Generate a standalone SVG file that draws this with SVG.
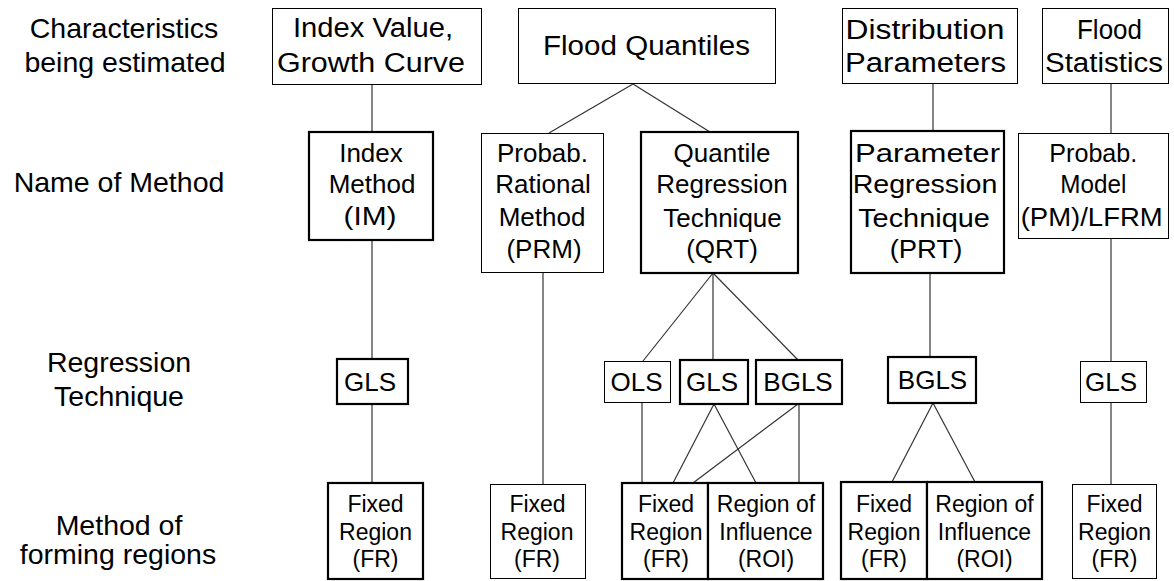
<svg xmlns="http://www.w3.org/2000/svg" width="1174" height="581" viewBox="0 0 1174 581">
<style>
text{font-family:"Liberation Sans",Arial,sans-serif;fill:#000;text-anchor:middle}
.lab{font-size:28.5px}
.top{font-size:27px}
.m{font-size:26px}
.r{font-size:26px}
.b{font-size:23px}
.thin{fill:#fff;stroke:#000;stroke-width:1}
.thick{fill:#fff;stroke:#000;stroke-width:2.2}
#connectors line{stroke:#333;stroke-width:1.2}
</style>
<rect width="1174" height="581" fill="#fff"/>
<g id="row-labels">
<text class="lab" x="124" y="38">Characteristics</text>
<text class="lab" x="125" y="72">being estimated</text>
<text class="lab" x="119" y="192">Name of Method</text>
<text class="lab" x="119" y="372">Regression</text>
<text class="lab" x="119" y="406">Technique</text>
<text class="lab" x="119" y="535">Method of</text>
<text class="lab" x="118" y="564">forming regions</text>
</g>
<g id="connectors">
<line x1="372" y1="85" x2="372" y2="132"/>
<line x1="372" y1="240" x2="372" y2="359"/>
<line x1="372" y1="404" x2="372" y2="483"/>
<line x1="633" y1="84" x2="549" y2="133"/>
<line x1="633" y1="84" x2="710" y2="132"/>
<line x1="543" y1="273" x2="543" y2="484"/>
<line x1="713" y1="273" x2="643" y2="361"/>
<line x1="713" y1="273" x2="713" y2="360"/>
<line x1="713" y1="273" x2="798" y2="360"/>
<line x1="642" y1="403" x2="642" y2="483"/>
<line x1="714" y1="404" x2="673" y2="483"/>
<line x1="714" y1="404" x2="756" y2="483"/>
<line x1="798" y1="404" x2="693" y2="483"/>
<line x1="799" y1="404" x2="799" y2="483"/>
<line x1="933" y1="84" x2="933" y2="131"/>
<line x1="930" y1="273" x2="930" y2="357"/>
<line x1="933" y1="403" x2="892" y2="482"/>
<line x1="933" y1="403" x2="975" y2="482"/>
<line x1="1111" y1="84" x2="1111" y2="133"/>
<line x1="1111" y1="239" x2="1111" y2="361"/>
<line x1="1111" y1="403" x2="1111" y2="484"/>
</g>
<g id="index-value">
<rect class="thin" x="272.5" y="8.5" width="209" height="76"/>
<text class="top" x="373" y="37" textLength="160" lengthAdjust="spacingAndGlyphs">Index Value,</text>
<text class="top" x="371" y="72" textLength="188" lengthAdjust="spacingAndGlyphs">Growth Curve</text>
</g>
<g id="flood-quantiles">
<rect class="thin" x="518.5" y="8.5" width="257" height="75"/>
<text class="top" x="646.5" y="55" textLength="207" lengthAdjust="spacingAndGlyphs">Flood Quantiles</text>
</g>
<g id="distribution-parameters">
<rect class="thin" x="842.5" y="8.5" width="175" height="75"/>
<text class="top" x="925" y="39" textLength="159" lengthAdjust="spacingAndGlyphs">Distribution</text>
<text class="top" x="925.5" y="72" textLength="161" lengthAdjust="spacingAndGlyphs">Parameters</text>
</g>
<g id="flood-statistics">
<rect class="thin" x="1042.5" y="8.5" width="126" height="75"/>
<text class="top" x="1109.5" y="39" textLength="65" lengthAdjust="spacingAndGlyphs">Flood</text>
<text class="top" x="1104" y="72" textLength="118" lengthAdjust="spacingAndGlyphs">Statistics</text>
</g>
<g id="index-method">
<rect class="thick" x="309" y="132" width="124" height="108"/>
<text class="m" x="371" y="162">Index</text>
<text class="m" x="372" y="193">Method</text>
<text class="m" x="370" y="225" textLength="53" lengthAdjust="spacingAndGlyphs">(IM)</text>
</g>
<g id="prm">
<rect class="thin" x="481.5" y="133.5" width="122" height="139"/>
<text class="m" x="542.5" y="162">Probab.</text>
<text class="m" x="543" y="193">Rational</text>
<text class="m" x="542" y="226">Method</text>
<text class="m" x="544" y="258">(PRM)</text>
</g>
<g id="qrt">
<rect class="thick" x="641" y="132" width="157" height="141"/>
<text class="m" x="722" y="162">Quantile</text>
<text class="m" x="722" y="193">Regression</text>
<text class="m" x="722.5" y="226.5">Technique</text>
<text class="m" x="722" y="258">(QRT)</text>
</g>
<g id="prt">
<rect class="thick" x="851" y="131" width="153" height="142"/>
<text class="m" x="927.5" y="162" textLength="145" lengthAdjust="spacingAndGlyphs">Parameter</text>
<text class="m" x="925" y="193" textLength="144.7" lengthAdjust="spacingAndGlyphs">Regression</text>
<text class="m" x="924" y="226.5" textLength="131.7" lengthAdjust="spacingAndGlyphs">Technique</text>
<text class="m" x="926" y="258" textLength="72.7" lengthAdjust="spacingAndGlyphs">(PRT)</text>
</g>
<g id="pm-lfrm">
<rect class="thin" x="1018.5" y="133.5" width="150" height="105"/>
<text class="m" x="1093.3" y="162" textLength="88" lengthAdjust="spacingAndGlyphs">Probab.</text>
<text class="m" x="1093.3" y="193" textLength="66" lengthAdjust="spacingAndGlyphs">Model</text>
<text class="m" x="1091.7" y="226" textLength="142" lengthAdjust="spacingAndGlyphs">(PM)/LFRM</text>
</g>
<g id="gls-im">
<rect class="thick" x="337" y="359" width="71" height="45"/>
<text class="r" x="370" y="391">GLS</text>
</g>
<g id="ols-qrt">
<rect class="thin" x="604.5" y="361.5" width="66" height="41"/>
<text class="r" x="636.5" y="391">OLS</text>
</g>
<g id="gls-qrt">
<rect class="thick" x="680" y="360" width="68" height="44"/>
<text class="r" x="712" y="391">GLS</text>
</g>
<g id="bgls-qrt">
<rect class="thick" x="756" y="360" width="86" height="44"/>
<text class="r" x="798" y="391">BGLS</text>
</g>
<g id="bgls-prt">
<rect class="thick" x="888" y="357" width="88" height="46"/>
<text class="r" x="932.5" y="389">BGLS</text>
</g>
<g id="gls-pm">
<rect class="thin" x="1080.5" y="361.5" width="66" height="41"/>
<text class="r" x="1111" y="391">GLS</text>
</g>
<g id="fr-im">
<rect class="thick" x="328" y="483" width="95" height="96"/>
<text class="b" x="375.5" y="512">Fixed</text>
<text class="b" x="375.5" y="540">Region</text>
<text class="b" x="375.5" y="567">(FR)</text>
</g>
<g id="fr-prm">
<rect class="thin" x="490.5" y="484.5" width="95" height="94"/>
<text class="b" x="537.5" y="512">Fixed</text>
<text class="b" x="537" y="540">Region</text>
<text class="b" x="537" y="567">(FR)</text>
</g>
<g id="fr-qrt">
<rect class="thick" x="622" y="483" width="86" height="96"/>
<text class="b" x="666" y="512">Fixed</text>
<text class="b" x="666" y="540">Region</text>
<text class="b" x="666" y="567">(FR)</text>
</g>
<g id="roi-qrt">
<rect class="thick" x="708" y="483" width="115" height="96"/>
<text class="b" x="766" y="512">Region of</text>
<text class="b" x="766" y="540">Influence</text>
<text class="b" x="766" y="567">(ROI)</text>
</g>
<g id="fr-prt">
<rect class="thick" x="841" y="482" width="86" height="97"/>
<text class="b" x="884" y="512">Fixed</text>
<text class="b" x="884" y="540">Region</text>
<text class="b" x="884" y="567">(FR)</text>
</g>
<g id="roi-prt">
<rect class="thick" x="927" y="482" width="115" height="97"/>
<text class="b" x="984.5" y="512">Region of</text>
<text class="b" x="984.5" y="540">Influence</text>
<text class="b" x="984.5" y="567">(ROI)</text>
</g>
<g id="fr-pm">
<rect class="thin" x="1072.5" y="484.5" width="84" height="94"/>
<text class="b" x="1114.5" y="512">Fixed</text>
<text class="b" x="1114.5" y="540">Region</text>
<text class="b" x="1114.5" y="567">(FR)</text>
</g>
</svg>
